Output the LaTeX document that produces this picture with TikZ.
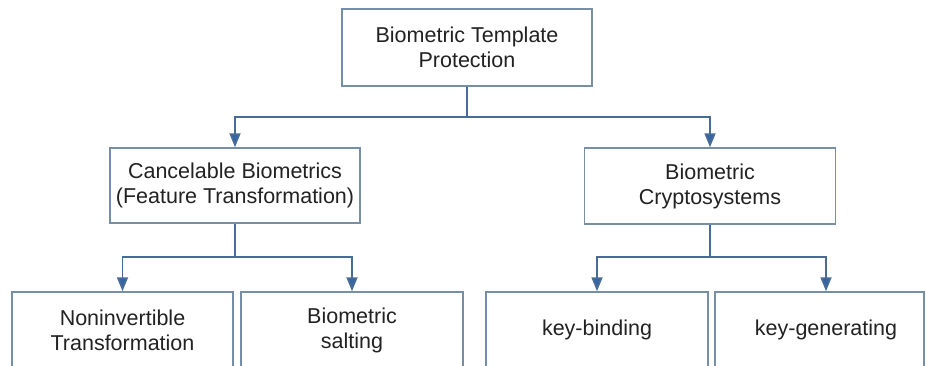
\documentclass[tikz,border=0pt]{standalone}
\usepackage{fontspec}
\setmainfont{Liberation Sans}
\usetikzlibrary{arrows.meta}
\definecolor{boxline}{RGB}{118,142,168}
\definecolor{linkline}{RGB}{72,108,150}
\definecolor{tipblue}{RGB}{52,101,164}
\definecolor{labeltext}{RGB}{34,34,34}
\tikzset{
  block/.style={draw=boxline, line width=1.5pt, fill=white, rectangle,
    align=center, text=labeltext, inner sep=0pt,
    font=\fontsize{21.5}{25}\selectfont},
  link/.style={draw=linkline, line width=1.8pt},
  linkarrow/.style={link, -{Triangle[width=11pt,length=14pt,fill=tipblue]}}
}
\begin{document}
\begin{tikzpicture}[x=1pt,y=-1pt]
  \useasboundingbox (0,0) rectangle (926,365);
  \clip (0,0) rectangle (926,365);

  % root
  \node[block, minimum width=250pt, minimum height=77pt] (root) at (467,47.5)
    {Biometric Template\\Protection};

  % second level
  \node[block, minimum width=250pt, minimum height=75pt] (cancel) at (235,185.5)
    {Cancelable Biometrics\\(Feature Transformation)};
  \node[block, minimum width=251pt, minimum height=76pt] (crypto) at (710,186)
    {Biometric\\Cryptosystems};

  % leaves (run past the lower edge)
  \node[block, minimum width=221pt, minimum height=76pt] (noninv) at (122.5,330)
    {Noninvertible\\Transformation};
  \node[block, minimum width=222pt, minimum height=76pt] (salt) at (352,330)
    {Biometric\\salting};
  \node[block, minimum width=222pt, minimum height=76pt] (bind) at (597,330)
    {key-binding};
  \node[block, minimum width=209pt, minimum height=76pt] (gen) at (819.5,330)
    {\hspace*{13pt}key-generating};

  % junction points
  \coordinate (j0) at (467,117);
  \coordinate (j1) at (235,257);
  \coordinate (j2) at (710,257);
  \coordinate (g) at (826,257);

  % connectors
  \draw[link] (root.south) -- (j0);
  \draw[linkarrow] (j0) -| (cancel.north);
  \draw[linkarrow] (j0) -| (crypto.north);

  \draw[link] (cancel.south) -- (j1);
  \draw[linkarrow] (j1) -| (noninv.north);
  \draw[linkarrow] (j1) -| (salt.north);

  \draw[link] (crypto.south) -- (j2);
  \draw[linkarrow] (j2) -| (bind.north);
  \draw[linkarrow] (j2) -- (g) -- (g |- gen.north);
\end{tikzpicture}
\end{document}
